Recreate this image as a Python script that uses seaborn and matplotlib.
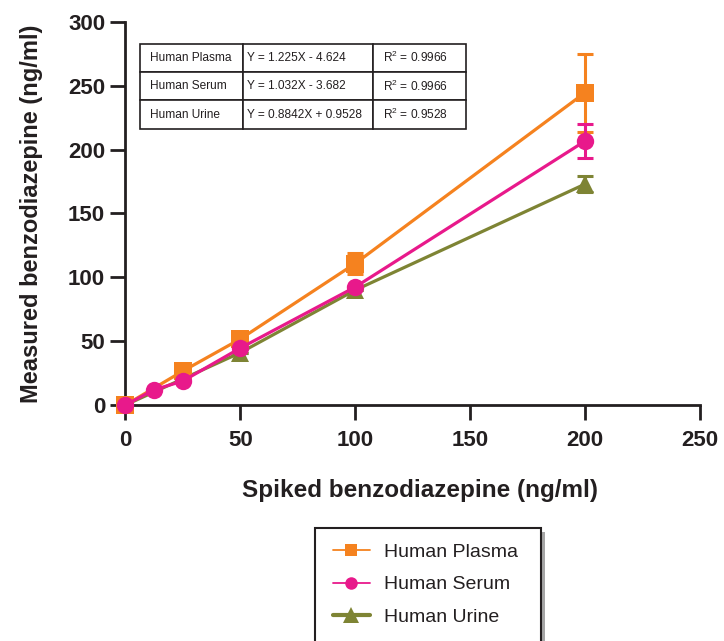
import matplotlib
matplotlib.use("Agg")
import matplotlib.pyplot as plt
import seaborn as sns
import pandas as pd
import numpy as np
from matplotlib.lines import Line2D
from matplotlib.patches import Rectangle

# ---- data ----
conc = [0, 12.5, 25, 50, 100, 200]
plasma = [0, None, 26.6, 51.7, 110.8, 244.6]
plasma_err = [0, 0, 0, 0, 8.5, 30.5]
serum = [0, 12.0, 18.8, 44.6, 92.4, 206.7]
serum_err = [0, 0, 0, 0, 0, 13.3]
urine = [0, None, None, 41, 90, 173]
urine_err = [0, 0, 0, 0, 0, 6]
series_names = ["Human Plasma", "Human Serum", "Human Urine"]
equations = ["Y = 1.225X - 4.624", "Y = 1.032X - 3.682", "Y = 0.8842X + 0.9528"]
r2_values = ["R$^2$ = 0.9966", "R$^2$ = 0.9966", "R$^2$ = 0.9528"]
x_ticks = [0, 50, 100, 150, 200, 250]
y_ticks = [0, 50, 100, 150, 200, 250, 300]

colors = {"Human Plasma": "#F5821F", "Human Serum": "#E8198B", "Human Urine": "#7E8434"}
markers = {"Human Plasma": "s", "Human Serum": "o", "Human Urine": "^"}

df = pd.DataFrame({
    "x": conc * 3,
    "y": pd.to_numeric(pd.Series(plasma + serum + urine), errors="coerce"),
    "err": plasma_err + serum_err + urine_err,
    "series": [series_names[0]] * len(conc) + [series_names[1]] * len(conc) + [series_names[2]] * len(conc),
})
df = df.dropna(subset=["y"])

sns.set_theme(style="ticks")
plt.rcParams["font.family"] = ["Liberation Sans", "DejaVu Sans"]
plt.rcParams["mathtext.fontset"] = "custom"
plt.rcParams["mathtext.rm"] = "Liberation Sans"

fig = plt.figure(figsize=(7.24, 6.41), dpi=100)
ax = fig.add_axes([0.173, 0.368, 0.794, 0.598])

draw_order = ["Human Urine", "Human Plasma", "Human Serum"]
for i, name in enumerate(draw_order):
    sub = df[df.series == name]
    ax.errorbar(sub.x, sub.y, yerr=sub.err, fmt="none", ecolor=colors[name],
                elinewidth=2.2, capsize=5.5, capthick=2.2, zorder=2 + i, clip_on=False)
    sns.lineplot(data=sub, x="x", y="y", ax=ax, color=colors[name],
                 marker=markers[name], markersize=12.5, markeredgewidth=0,
                 linewidth=2.3, zorder=3 + i, clip_on=False, legend=False)

ax.set_xlim(0, 250)
ax.set_ylim(0, 300)
ax.set_xticks(x_ticks)
ax.set_yticks(y_ticks)
ax.set_xticklabels([str(t) for t in x_ticks], fontsize=16, fontweight="bold")
ax.set_yticklabels([str(t) for t in y_ticks], fontsize=16, fontweight="bold")
ax.tick_params(axis="both", length=11, width=2.0, color="#231F20", labelcolor="#231F20")
ax.tick_params(axis="x", pad=7)
ax.tick_params(axis="y", pad=3.5)
for s in ["left", "bottom"]:
    ax.spines[s].set_linewidth(2.0)
    ax.spines[s].set_color("#231F20")
ax.spines["top"].set_visible(False)
ax.spines["right"].set_visible(False)
ax.set_xlabel("Spiked benzodiazepine (ng/ml)", fontsize=17.5, fontweight="bold", color="#231F20")
ax.xaxis.set_label_coords(0.513, -0.193)
ax.set_ylabel("Measured benzodiazepine (ng/ml)", fontsize=17, fontweight="bold", color="#231F20", labelpad=18)

# equation table
cell_text = [[series_names[i], equations[i], r2_values[i]] for i in range(3)]
col_widths = [103, 130, 93]
col_pads = [10, 4, 10]
tab = ax.table(cellText=cell_text, bbox=[0.026, 0.721, 0.567, 0.222],
               colWidths=col_widths, cellLoc="left")
tab.auto_set_font_size(False)
tab.set_fontsize(8.6)
for (r, c), cell in tab.get_celld().items():
    cell.set_linewidth(1.2)
    cell.set_edgecolor("#231F20")
    cell.PAD = col_pads[c] / col_widths[c]
    cell.get_text().set_color("#231F20")

# legend
W, H = 724.0, 641.0
fig.patches.append(Rectangle((541 / W, -0.1), 4 / W, 1 - 532 / H + 0.1, transform=fig.transFigure,
                             facecolor="#A6A6A6", edgecolor="none", zorder=0))
fig.patches.append(Rectangle((315 / W, -0.1), 226 / W, 1 - 528 / H + 0.1, transform=fig.transFigure,
                             facecolor="white", edgecolor="#231F20", linewidth=1.5, zorder=1))
leg_handles = [
    Line2D([], [], color=colors["Human Plasma"], marker="s", markersize=9, linewidth=1.3, markeredgewidth=0),
    Line2D([], [], color=colors["Human Serum"], marker="o", markersize=9, linewidth=1.3, markeredgewidth=0),
    Line2D([], [], color=colors["Human Urine"], marker="^", markersize=11, linewidth=3, markeredgewidth=0),
]
leg = fig.legend(leg_handles, series_names, loc="upper left", bbox_to_anchor=(333 / W, 1 - 543 / H),
                 frameon=False, fontsize=14, handlelength=1.9, handletextpad=0.7,
                 borderpad=0, labelspacing=0.78, borderaxespad=0)
for t in leg.get_texts():
    t.set_color("#231F20")

fig.savefig("out.png", dpi=100)
